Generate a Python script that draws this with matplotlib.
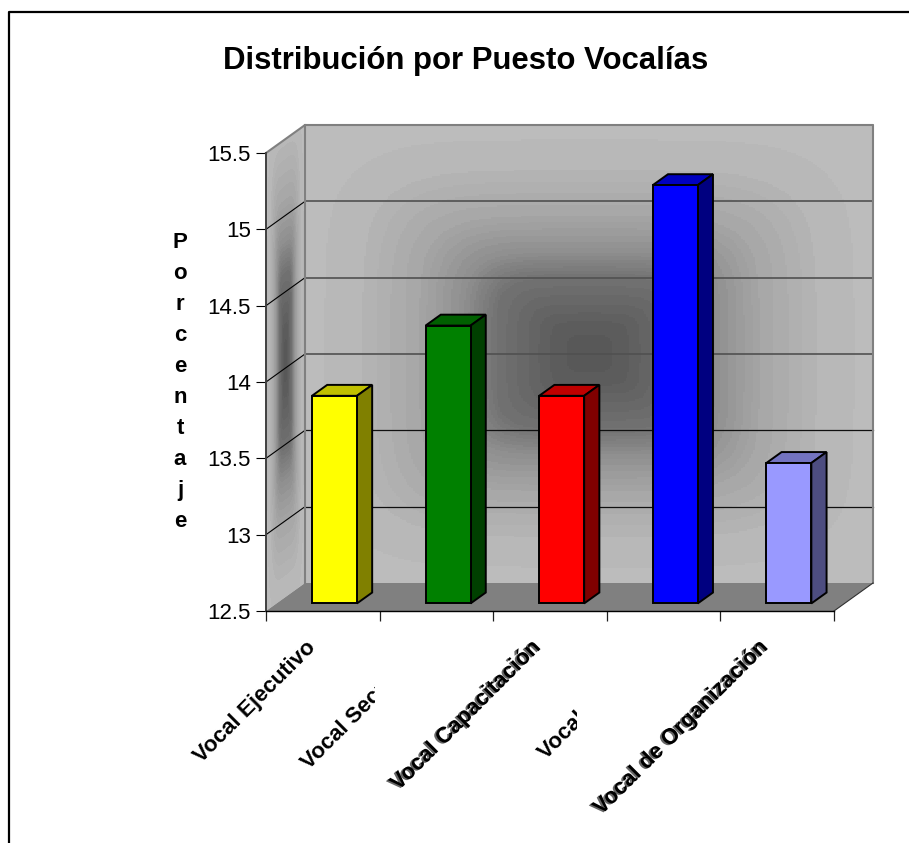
import numpy as np
import matplotlib
matplotlib.use("Agg")
import matplotlib.pyplot as plt
import matplotlib.patheffects as pe
from matplotlib.lines import Line2D
from matplotlib.patches import Polygon
from matplotlib.transforms import Bbox, TransformedBbox

plt.rcParams["font.family"] = ["Liberation Sans", "DejaVu Sans"]

# data
categories = ["Vocal Ejecutivo", "Vocal Secretario", "Vocal Capacitación",
              "Vocal Tesorero", "Vocal de Organización"]
values = [13.86, 14.32, 13.86, 15.24, 13.42]
yticks = [12.5, 13, 13.5, 14, 14.5, 15, 15.5]
front_colors = ["#ffff00", "#008000", "#ff0000", "#0000ff", "#9999ff"]
top_colors = ["#c0c000", "#006000", "#c00000", "#0000c0", "#7373c0"]
side_colors = ["#808000", "#004000", "#800000", "#000080", "#4d4d80"]

W, H = 909, 843
fig = plt.figure(figsize=(W / 100, H / 100), dpi=100)
# front plane of the fake 3d box
ax = fig.add_axes([266 / W, 1 - 611 / H, 568 / W, 458 / H])
ax.patch.set_visible(False)
ax.set_xlim(0, 5)
ax.set_ylim(12.5, 15.5)

# depth vector of the box, in data units
DX = 39 / 113.6
DY = 28 / 152.67


def proj(x, y, d):
    return x + d * DX, y + d * DY


def grad(u, v, levels=64):
    # rectangular glow, dark at the middle
    t = (np.abs(u) ** 5 + np.abs(v) ** 5) ** (1 / 5)
    g = np.interp(t, [0, 0.12, 0.33, 0.45, 0.6, 0.8, 1], [0x56, 0x5c, 0x72, 0x90, 0xa6, 0xb6, 0xbc])
    return np.round(g / (256 / levels)) * (256 / levels)


# back wall
n = 300
uu, vv = np.meshgrid(np.linspace(-1, 1, n), np.linspace(-1, 1, n))
ax.imshow(grad(uu, vv), extent=[DX, 5 + DX, 12.5 + DY, 15.5 + DY], aspect="auto",
          cmap="gray", vmin=0, vmax=255, clip_on=False, zorder=0, interpolation="nearest")

# left wall, sheared with the depth
xs = np.linspace(0, DX, 80)
ys = np.linspace(12.5, 15.5 + DY, 500)
xg, yg = np.meshgrid(xs, ys)
u = (xg / DX - 0.5) * 2
v = (yg - (14.05 + (xg / DX) * DY)) / 1.5
wall = ax.imshow(grad(u, v * 0.85), extent=[0, DX, 12.5, 15.5 + DY], origin="lower",
                 aspect="auto", cmap="gray", vmin=0, vmax=255, zorder=0, interpolation="nearest")
wall.set_clip_path(Polygon([(0, 12.5), (DX, 12.5 + DY), (DX, 15.5 + DY), (0, 15.5)],
                           transform=ax.transData))
wall.set_clip_box(fig.bbox)
ax.set_xlim(0, 5)
ax.set_ylim(12.5, 15.5)

# floor
ax.add_patch(Polygon([(0, 12.5), (5, 12.5), proj(5, 12.5, 1), proj(0, 12.5, 1)],
                     fc="#808080", ec="none", clip_on=False, zorder=1))

# gridlines on walls
for yt in yticks[1:-1]:
    upper = yt >= 14
    ax.plot([0, DX], [yt, yt + DY], color="black", lw=0.8, clip_on=False, zorder=1.5)
    ax.plot([DX, 5 + DX], [yt + DY, yt + DY], color="#505050" if upper else "#101010",
            lw=1.2 if upper else 0.9, clip_on=False, zorder=1.5)

# box outline
ax.plot([0, DX, 5 + DX, 5 + DX], [15.5, 15.5 + DY, 15.5 + DY, 12.5 + DY],
        color="#808080", lw=1.5, clip_on=False, zorder=1.6)
ax.plot([DX, DX], [12.5 + DY, 15.5 + DY], color="#808080", lw=1.5, clip_on=False, zorder=1.6)
ax.plot([5, 5 + DX], [12.5, 12.5 + DY], color="#303030", lw=0.8, clip_on=False, zorder=1.6)

# bars
d0, d1 = 0.27, 0.66
bw = 0.396
for i, val in enumerate(values):
    x0 = i + 0.312
    x1 = x0 + bw
    sides = [
        ([proj(x0, val, d0), proj(x1, val, d0), proj(x1, val, d1), proj(x0, val, d1)], top_colors[i]),
        ([proj(x1, 12.5, d0), proj(x1, 12.5, d1), proj(x1, val, d1), proj(x1, val, d0)], side_colors[i]),
        ([proj(x0, 12.5, d0), proj(x1, 12.5, d0), proj(x1, val, d0), proj(x0, val, d0)], front_colors[i]),
    ]
    for pts, col in sides:
        ax.add_patch(Polygon(pts, fc=col, ec="black", lw=1.4, joinstyle="miter",
                             clip_on=False, zorder=3))

# axes
ax.spines[["top", "right"]].set_visible(False)
ax.spines["left"].set_color("#404040")
ax.spines["left"].set_linewidth(1.4)
ax.spines["bottom"].set_linewidth(1.0)
ax.set_yticks(yticks, [f"{t:g}" for t in yticks], fontsize=16, color="black")
ax.tick_params(axis="y", length=7, width=0.8, pad=4)
ax.set_xticks(range(6), [""] * 6)
ax.tick_params(axis="x", length=7, width=0.9, color="#202020")

# category labels, two of them come out cut in the original and two ghosted
clip_right = [None, 0.96, None, 2.74, None]
ghosted = [False, False, True, False, True]
for i, lab in enumerate(categories):
    xoff = -9 if ghosted[i] else -7
    t = ax.annotate(lab, xy=(i + 0.5, 12.5), xytext=(xoff, -24), textcoords="offset points",
                    rotation=45, rotation_mode="anchor", ha="right", va="center",
                    fontsize=16, fontweight="bold", annotation_clip=False)
    if ghosted[i]:
        t.set_path_effects([pe.SimplePatchShadow(offset=(-1.4, -0.8), shadow_rgbFace="black", alpha=0.6),
                            pe.Normal()])
    if clip_right[i] is not None:
        t.set_clip_on(True)
        t.set_clip_box(TransformedBbox(Bbox([[-5, 0], [clip_right[i], 20]]), ax.transData))

# y label stacked by letter
fig.text(180 / W, 1 - 382 / H, "\n".join("Porcentaje"), ha="center", va="center",
         fontsize=16, fontweight="bold", linespacing=1.62)

fig.text(466 / W, 1 - 61 / H, "Distribución por Puesto Vocalías", ha="center", va="center",
         fontsize=22.4, fontweight="bold")

# outer frame, cut at right and bottom
fig.add_artist(Line2D([9 / W, 9 / W, 1], [0, 1 - 12 / H, 1 - 12 / H], color="black", lw=1.6))

fig.savefig("out.png", dpi=100)
